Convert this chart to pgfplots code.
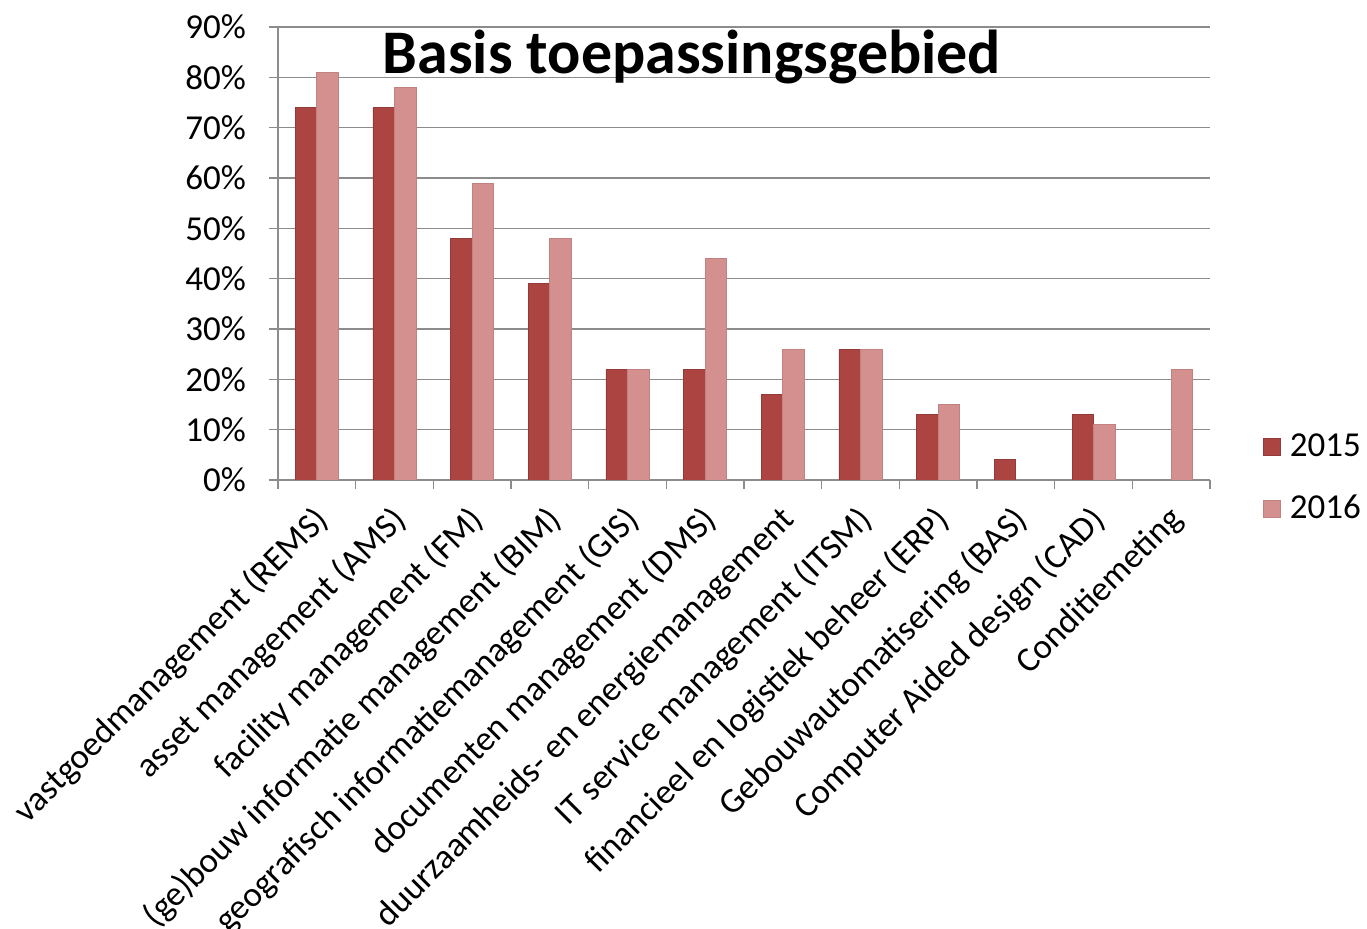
\documentclass[border=0pt]{standalone}
\usepackage{pgfplots}
\pgfplotsset{compat=1.18}
\usepackage{fontspec}
\setmainfont{Carlito}
\definecolor{c15}{RGB}{172,68,66}
\definecolor{c16}{RGB}{212,144,143}
\definecolor{gridgray}{RGB}{140,140,140}
\begin{document}
\begin{tikzpicture}
\begin{axis}[
  at={(0,0)}, anchor=south west,
  scale only axis, width=466pt, height=226.5pt,
  ybar=0pt, bar width=10.75pt,
  xmin=-0.5, xmax=11.5, ymin=0, ymax=90,
  axis x line*=bottom, axis y line*=left,
  axis line style={draw=gridgray, line width=0.75pt, -},
  ymajorgrids, grid style={draw=gridgray, line width=0.75pt},
  tick align=outside,
  major tick length=4.5pt,
  tick style={draw=gridgray, line width=0.75pt},
  ytick={0,10,...,90},
  yticklabels={0\%,10\%,20\%,30\%,40\%,50\%,60\%,70\%,80\%,90\%},
  xtick={-0.5,0.5,...,11.5},
  xticklabels={},
  extra x ticks={0,1,2,3,4,5,6,7,8,9,10,11},
  extra x tick labels={vastgoedmanagement (REMS),asset management (AMS),facility management (FM),(ge)bouw informatie management (BIM),geografisch informatiemanagement (GIS),documenten management (DMS),duurzaamheids- en energiemanagement,IT service management (ITSM),financieel en logistiek beheer (ERP),Gebouwautomatisering (BAS),Computer Aided design (CAD),Conditiemeting},
  extra x tick style={major tick length=0pt, tick label style={rotate=45, anchor=east, yshift=-14.5pt, xshift=-6.6pt}},
  ticklabel style={font=\fontsize{17.5}{21}\selectfont, text=black},
  yticklabel style={xshift=-8pt},
  legend style={at={(1.05,0.005)}, anchor=west, draw=none, fill=none,
    font=\fontsize{17.5}{21}\selectfont, row sep=14pt, legend cell align=left},
  legend image code/.code={\fill[#1] (0pt,-4.25pt) rectangle (8.5pt,4.25pt); \path (11pt,0pt);},
]
\addplot[fill=c15, draw=c15!85!black] coordinates {(0,74) (1,74) (2,48) (3,39) (4,22) (5,22) (6,17) (7,26) (8,13) (9,4) (10,13)};
\addplot[fill=c16, draw=c16!90!black] coordinates {(0,81) (1,78) (2,59) (3,48) (4,22) (5,44) (6,26) (7,26) (8,15) (10,11) (11,22)};
\legend{2015,2016}
\node[font=\bfseries\fontsize{31}{36}\selectfont, text=black] at (rel axis cs:0.444,0.934) {Basis toepassingsgebied};
\end{axis}
\pgfresetboundingbox
\useasboundingbox (-139pt,-224.5pt) rectangle (544.5pt,240pt);
\end{tikzpicture}
\end{document}
